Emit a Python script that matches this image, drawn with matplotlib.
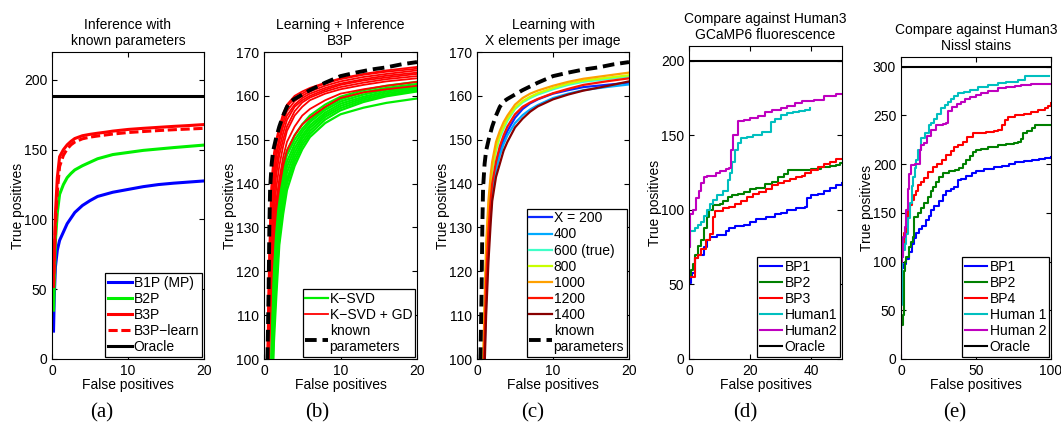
import matplotlib
matplotlib.use("Agg")
import matplotlib.pyplot as plt

plt.rcParams['font.family'] = ['Liberation Sans', 'DejaVu Sans']
plt.rcParams['font.size'] = 10
plt.rcParams['xtick.direction'] = 'in'
plt.rcParams['ytick.direction'] = 'in'
plt.rcParams['xtick.top'] = True
plt.rcParams['ytick.right'] = True
plt.rcParams['xtick.major.size'] = 3.5
plt.rcParams['ytick.major.size'] = 3.5
plt.rcParams['axes.linewidth'] = 0.8

# ---------------- Panel (a) ----------------
a_x = [0.2, 0.3, 0.45, 0.7, 1.0, 1.5, 2.0, 2.5, 3.0, 4.0, 5.0, 6.0, 7.0, 8.0, 10.0, 12.0, 14.0, 16.0, 18.0, 20.0]
a_b1p = [20, 45, 66, 78, 85, 91, 97, 101, 105, 110, 113.5, 116.5, 118, 119.5, 121.5, 123.5, 125, 126, 126.8, 127.6]
a_b2p = [35, 52, 85, 105, 118, 125, 130, 133, 135.5, 138.5, 141, 143.5, 145, 146.5, 148, 149.5, 150.5, 151.5, 152.4, 153.3]
a_b3p = [52, 75, 104, 130, 145, 150, 153.5, 156, 158, 160, 161, 161.8, 162.5, 163.3, 164.5, 165.3, 166, 166.7, 167.3, 168]
a_b3p_learn = [52, 70, 95, 120, 138, 146, 150.5, 153.5, 155.5, 157.8, 159, 159.8, 160.5, 161.2, 162.3, 163, 163.7, 164.3, 164.8, 165.3]
a_oracle = 188.5

# ---------------- Panel (b) ----------------
b_xr = [0.4, 0.6, 0.8, 1.0, 1.3, 1.6, 2.0, 2.5, 3.0, 4.0, 5.0, 6.0, 8.0, 10.0, 13.0, 16.0, 20.0]
b_red = [
    [97, 118, 132, 141, 147, 150, 153, 156, 158, 160, 161, 161.8, 163, 164, 165, 165.8, 166.6],
    [95, 115, 130, 139, 145, 149, 152, 155, 157.5, 159.5, 160.5, 161.5, 162.8, 163.8, 164.8, 165.5, 166.2],
    [93, 112, 127, 136, 143, 147, 150.5, 154, 156.5, 158.8, 160, 161, 162.3, 163.3, 164.3, 165, 165.8],
    [92, 110, 124, 134, 141, 146, 149.5, 153, 155.5, 158, 159.5, 160.5, 161.8, 162.8, 163.8, 164.6, 165.3],
    [90, 106, 120, 131, 139, 144, 148, 151.5, 154.5, 157.5, 159, 160, 161.4, 162.5, 163.5, 164.2, 165],
    [88, 103, 116, 128, 136, 142, 146.5, 150, 153, 156.5, 158.5, 159.6, 161, 162, 163, 163.8, 164.5],
    [86, 100, 112, 124, 133, 139, 144, 148.5, 152, 155.5, 157.5, 159, 160.5, 161.5, 162.5, 163.3, 164],
    [85, 99, 110, 121, 130, 136, 141, 146, 149.5, 153, 155.5, 157, 159, 160.5, 161.5, 162.3, 163.2],
    [84, 97, 108, 119, 128, 134, 139, 144, 147.5, 151, 153.5, 155, 157.5, 159.5, 160.8, 161.5, 162.3],
]
b_xg = [0.9, 1.1, 1.3, 1.6, 2.0, 2.5, 3.0, 4.0, 5.0, 6.0, 8.0, 10.0, 13.0, 16.0, 20.0]
b_green = [
    [95, 112, 125, 134, 140, 144.5, 147.5, 151, 153.5, 155.5, 158, 159.8, 161.3, 162.3, 163.2],
    [93, 110, 122, 132, 138.5, 143, 146.5, 150, 152.5, 154.5, 157.3, 159.2, 160.8, 161.8, 162.7],
    [92, 107, 119, 129, 136.5, 141.5, 145, 149, 151.8, 154, 156.8, 158.7, 160.3, 161.4, 162.2],
    [90, 104, 116, 126, 134.5, 140, 143.8, 148, 151, 153.3, 156.2, 158.2, 159.8, 161, 161.9],
    [88, 101, 113, 123, 132, 138, 142.5, 147, 150.3, 152.7, 155.7, 157.7, 159.4, 160.6, 161.6],
    [86, 98, 110, 120, 130, 136.5, 141, 146, 149.5, 152, 155.2, 157.2, 159, 160.2, 161.3],
    [85, 96, 107, 117, 128, 135, 140, 145, 148.7, 151.3, 154.6, 156.7, 158.6, 159.9, 161],
    [84, 94, 104, 114, 126, 133, 138.5, 144, 147.8, 150.6, 153.8, 155.8, 157.3, 158.4, 159.4],
]
known_x = [0.45, 0.6, 0.7, 0.8, 1.0, 1.2, 1.6, 2.0, 2.5, 3.0, 3.5, 4.0, 5.0, 6.0, 8.0, 10.0, 12.0, 14.0, 16.0, 18.0, 20.0]
known_y = [100, 115, 130, 139, 144.5, 147.5, 150.5, 153, 155.5, 157.5, 158.7, 159.3, 160.3, 161.3, 163, 164.5, 165.3, 166, 166.5, 167.2, 167.7]

# ---------------- Panel (c) ----------------
c_x = [0.8, 1.0, 1.2, 1.5, 1.8, 2.0, 2.5, 3.0, 3.5, 4.0, 5.0, 6.0, 7.0, 8.0, 10.0, 12.0, 14.0, 17.0, 20.0]
c_labels = ['X = 200', '400', '600 (true)', '800', '1000', '1200', '1400']
c_colors = ['#0a28ff', '#00aaff', '#40ffc8', '#c8ff00', '#ffa000', '#ff1400', '#880000']
c_series = [
    [90, 103, 115, 127, 135, 139, 144, 147.5, 150, 152, 155, 157, 158.3, 159.2, 160.5, 161.3, 162, 162.5, 163],
    [88, 101, 113, 125, 133, 137.5, 143, 146.5, 149, 151, 153.8, 155.6, 156.9, 157.9, 159.5, 160.5, 161.3, 162, 162.6],
    [96, 109, 122, 133, 140, 143, 147.5, 150.5, 152.5, 154.3, 157, 158.5, 159.5, 160.3, 161.5, 162.5, 163.2, 163.8, 164.4],
    [97, 110, 123, 134, 140.5, 143.5, 148, 151, 153, 154.8, 157.3, 158.8, 159.8, 160.6, 161.8, 162.8, 163.5, 164.1, 164.7],
    [98, 113, 126, 136, 142, 145, 149.5, 152, 154, 155.5, 158, 159.5, 160.5, 161.2, 162.3, 163.2, 163.9, 164.6, 165.3],
    [92, 105, 118, 129, 136.5, 140, 145, 148.5, 151, 153, 155.8, 157.5, 158.5, 159.3, 160.6, 161.6, 162.5, 163.3, 164],
    [85, 98, 110, 122, 131, 136, 141.5, 144.5, 147.5, 149.5, 152.8, 154.8, 156.4, 157.6, 159.2, 160.3, 161.2, 162.2, 163.3],
]

# ---------------- Panel (d) ----------------
d_bp1_x = [0, 0.5, 1, 2, 3, 5, 6, 7, 9, 12, 13, 15, 18, 20, 22, 25, 28, 30, 32, 35, 38, 38.5, 40, 42, 44, 46, 48, 50]
d_bp1_y = [51, 55, 58, 68, 70, 75, 80, 82, 83, 86, 88, 89, 90, 92, 94, 95, 97, 98, 100, 101, 102, 108, 110, 111, 113, 115, 117, 118]
d_bp2_x = [0, 0.5, 1.2, 2, 3, 4, 5, 5.8, 6.6, 8, 10, 11, 12.7, 14, 16, 18, 20, 22, 24.7, 27, 29, 31, 32.4, 35, 40, 43, 46, 48, 49.5, 50]
d_bp2_y = [55, 60, 64, 70, 76, 80, 88, 95, 100, 103, 104, 106, 108.5, 110, 111, 112, 114, 115, 117.5, 119, 122, 124, 126.8, 127, 127.5, 128.5, 129.5, 130, 131.5, 131.7]
d_bp3_x = [0, 2, 3, 4, 5.5, 7, 8, 8.5, 11, 13, 15, 17, 19, 21, 23, 25, 27, 29, 31, 33, 35, 37, 38, 40, 42, 44, 46, 48, 50]
d_bp3_y = [55, 68, 70, 74, 80, 84, 95, 99.5, 101, 102, 104, 106, 109, 110.5, 112, 114, 116.5, 118, 119.5, 120.5, 122, 123, 124.5, 127, 129, 131, 132.5, 134, 134]
d_h1_x = [0, 0.3, 2, 3, 4, 5, 6, 7, 8, 9, 11, 12.7, 13.5, 14, 14.9, 16, 17, 19, 21, 24, 26.7, 28, 30, 32, 34, 36, 38, 39.5]
d_h1_y = [75, 86, 88, 90, 92, 96, 100, 104, 107, 110, 113, 120, 125, 132, 140, 145, 148, 149, 150.3, 152, 159, 161, 163.5, 165, 166, 166.5, 167, 168.5]
d_h2_x = [0, 0, 0.3, 1.2, 2.3, 3.3, 4, 5, 6, 8.8, 10, 12, 13.2, 13.7, 14.3, 16, 18, 20, 22.5, 24.7, 27, 30, 32, 34.5, 37, 41, 44, 47.9, 50]
d_h2_y = [0, 75, 97, 100, 108, 113, 118, 122, 123, 124.5, 126, 127.5, 128, 140, 150, 160, 160.5, 161.5, 163, 166, 167, 168.5, 170, 172, 173, 174, 176.5, 177.6, 177.6]
d_oracle = 200

# ---------------- Panel (e) ----------------
e_bp1_x = [0.4, 2, 3.5, 5.5, 7, 8.5, 10, 12, 14, 16.7, 18.5, 20, 22, 25, 27.8, 30, 33, 35, 37.8, 40, 43, 47, 50, 55, 62, 67, 72, 76, 82, 87, 92, 96, 100]
e_bp1_y = [93, 98, 103, 110, 118, 124, 129, 133, 137, 142.7, 147, 153, 157, 162, 168.4, 172, 174, 177, 183.8, 185, 188, 191, 193.3, 195, 197, 198, 200, 202, 203, 204, 205, 206.5, 207.6]
e_bp2_x = [0.4, 1.5, 1.8, 2.5, 3.3, 5, 6.5, 7.8, 8.9, 11, 13.3, 15.5, 17.8, 20, 21.5, 23.3, 25.5, 27.8, 32, 36, 38.9, 41, 43.3, 46, 48, 50, 53, 58, 64.7, 70, 75, 78, 80, 81.3, 84, 87, 89.1, 100]
e_bp2_y = [35, 45, 90, 100, 105, 115, 120, 125.6, 146, 150, 154.7, 160, 166.6, 172, 177, 182, 187, 190.6, 192.5, 194, 195.7, 200, 204.3, 208, 212, 214.6, 216, 218, 219.7, 221, 222, 223.1, 226, 231.7, 234, 237, 240.2, 240.2]
e_bp4_x = [0, 0.5, 1.5, 2.2, 3.3, 4.4, 6, 7.5, 8.9, 10, 11.1, 13, 15, 17.8, 21.1, 24, 27, 30, 33, 35.6, 38, 41.1, 44, 47.8, 52, 56.7, 62, 64.7, 67, 69, 71.3, 76, 82, 86.9, 91, 95.8, 98, 100]
e_bp4_y = [105, 108.5, 115, 129, 140, 154.7, 158, 163, 168.4, 172, 178.6, 182, 186, 192.3, 197.4, 200, 204, 209.4, 213, 218, 220, 223.1, 228, 231.7, 232.5, 233.4, 234, 235.1, 240, 245, 248.8, 250.5, 252, 253.9, 255.5, 257.3, 260, 262.4]
e_h1_x = [0, 0.5, 1.1, 2.5, 3.5, 4.5, 5.8, 7, 7.8, 9, 10, 11.5, 13.3, 15.8, 18.9, 20.2, 22, 24, 26.9, 29, 31, 33, 35, 38, 42, 46, 51.3, 58, 64.7, 70, 78, 82.4, 90, 98.4]
e_h1_y = [55, 105, 112, 118, 128, 145, 160, 178, 187, 196, 204, 215, 226.5, 232, 240, 242, 246, 251, 257.3, 261, 264, 267, 270, 272.7, 274, 276, 279, 281, 283, 284.5, 286.4, 290.5, 290.5, 290.5]
e_h2_x = [0, 0, 0.5, 1.6, 2.5, 3.3, 4.4, 5.5, 6.7, 9, 11.3, 12.5, 13.3, 15.5, 17, 20.2, 23.3, 28, 30, 31.3, 34, 37, 40, 42.4, 46, 50, 53.5, 58, 64.7, 70, 76, 80, 86.9, 100]
e_h2_y = [0, 100, 105, 125.6, 135, 153, 175, 190, 199, 200, 200.6, 215, 220, 222, 229, 235, 240, 241, 242, 255, 259, 262, 264, 266.5, 269, 271, 272.7, 275, 277.9, 279, 280.5, 281.5, 282.3, 282.3]
e_oracle = 300

fig = plt.figure(figsize=(10.61, 4.25), dpi=100)

TITLE_KW = dict(fontsize=10, pad=5, linespacing=1.2)

def frame(ax):
    for s in ax.spines.values():
        s.set_color('black')
    ax.tick_params(labelsize=10, colors='black', width=0.8)
    ax.set_xlabel('False positives', labelpad=0)
    ax.set_ylabel('True positives', labelpad=-1)

def leg(ax, hl=1.7):
    lg = ax.legend(loc='lower right', fontsize=10, frameon=True, fancybox=False,
                   edgecolor='black', framealpha=1, borderpad=0.2,
                   labelspacing=0.15, handletextpad=0.15, borderaxespad=0.15,
                   handlelength=hl)
    lg.get_frame().set_linewidth(0.9)
    return lg

# (a)
ax = fig.add_axes([52/1061, 66/425, 152/1061, 307/425])
ax.plot(a_x, a_b1p, color='#0000ff', lw=2.2, label='B1P (MP)')
ax.plot(a_x, a_b2p, color='#00f000', lw=2.2, label='B2P')
ax.plot(a_x, a_b3p, color='#ff0000', lw=2.2, label='B3P')
ax.plot(a_x, a_b3p_learn, color='#ff0000', lw=2.2, ls=(0, (3, 1.2)), label='B3P\u2212learn')
ax.axhline(a_oracle, color='black', lw=2.2, label='Oracle')
ax.set_xlim(0, 20); ax.set_ylim(0, 220)
ax.set_xticks([0, 10, 20]); ax.set_yticks([0, 50, 100, 150, 200])
ax.set_title('Inference with\nknown parameters', **TITLE_KW)
frame(ax); leg(ax, 1.7)

# (b)
ax = fig.add_axes([264/1061, 66/425, 153/1061, 307/425])
for i, ys in enumerate(b_green):
    ax.plot(b_xg, ys, color='#00ee00', lw=1.6, label='K\u2212SVD' if i == 0 else None)
for i, ys in enumerate(b_red):
    ax.plot(b_xr, ys, color='#ff0000', lw=1.3, label='K\u2212SVD + GD' if i == 0 else None)
ax.plot(known_x, known_y, color='black', lw=2.8, ls=(0, (3, 1.5)), label='known\nparameters')
ax.set_xlim(0, 20); ax.set_ylim(100, 170)
ax.set_xticks([0, 10, 20]); ax.set_yticks(range(100, 171, 10))
ax.set_title('Learning + Inference\nB3P', **TITLE_KW)
frame(ax); leg(ax, 1.6)

# (c)
ax = fig.add_axes([477/1061, 66/425, 152/1061, 307/425])
for lab, col, ys in zip(c_labels, c_colors, c_series):
    ax.plot(c_x, ys, color=col, lw=1.6, label=lab)
ax.plot(known_x, known_y, color='black', lw=2.8, ls=(0, (3, 1.5)), label='known\nparameters')
ax.set_xlim(0, 20); ax.set_ylim(100, 170)
ax.set_xticks([0, 10, 20]); ax.set_yticks(range(100, 171, 10))
ax.set_title('Learning with\nX elements per image', **TITLE_KW)
frame(ax); leg(ax, 1.6)

# (d)
ax = fig.add_axes([689/1061, 66/425, 153/1061, 313/425])
ax.plot(d_bp1_x, d_bp1_y, color='#0000ff', lw=1.5, drawstyle='steps-post', label='BP1')
ax.plot(d_bp2_x, d_bp2_y, color='#008000', lw=1.5, drawstyle='steps-post', label='BP2')
ax.plot(d_bp3_x, d_bp3_y, color='#ff0000', lw=1.5, drawstyle='steps-post', label='BP3')
ax.plot(d_h1_x, d_h1_y, color='#00bfbf', lw=1.5, drawstyle='steps-post', label='Human1')
ax.plot(d_h2_x, d_h2_y, color='#bf00bf', lw=1.5, drawstyle='steps-post', label='Human2')
ax.axhline(d_oracle, color='black', lw=1.5, label='Oracle')
ax.set_xlim(0, 50); ax.set_ylim(0, 210)
ax.set_xticks([0, 20, 40]); ax.set_yticks([0, 50, 100, 150, 200])
ax.set_title('Compare against Human3\nGCaMP6 fluorescence', **TITLE_KW)
frame(ax); leg(ax, 1.6)

# (e)
ax = fig.add_axes([901/1061, 66/425, 150/1061, 302/425])
ax.plot(e_bp1_x, e_bp1_y, color='#0000ff', lw=1.5, drawstyle='steps-post', label='BP1')
ax.plot(e_bp2_x, e_bp2_y, color='#008000', lw=1.5, drawstyle='steps-post', label='BP2')
ax.plot(e_bp4_x, e_bp4_y, color='#ff0000', lw=1.5, drawstyle='steps-post', label='BP4')
ax.plot(e_h1_x, e_h1_y, color='#00bfbf', lw=1.5, drawstyle='steps-post', label='Human 1')
ax.plot(e_h2_x, e_h2_y, color='#bf00bf', lw=1.5, drawstyle='steps-post', label='Human 2')
ax.axhline(e_oracle, color='black', lw=1.5, label='Oracle')
ax.set_xlim(0, 100); ax.set_ylim(0, 310)
ax.set_xticks([0, 50, 100]); ax.set_yticks(range(0, 301, 50))
ax.set_title('Compare against Human3\nNissl stains', **TITLE_KW)
frame(ax); leg(ax, 1.6)

panel_labels = ['(a)', '(b)', '(c)', '(d)', '(e)']
label_x = [102, 317, 533, 745, 955]
for lab, lx in zip(panel_labels, label_x):
    fig.text(lx/1061, 1 - 413/425, lab, ha='center', va='center',
             fontsize=15, family=['Liberation Serif', 'DejaVu Serif'])

fig.savefig('out.png', dpi=100)
